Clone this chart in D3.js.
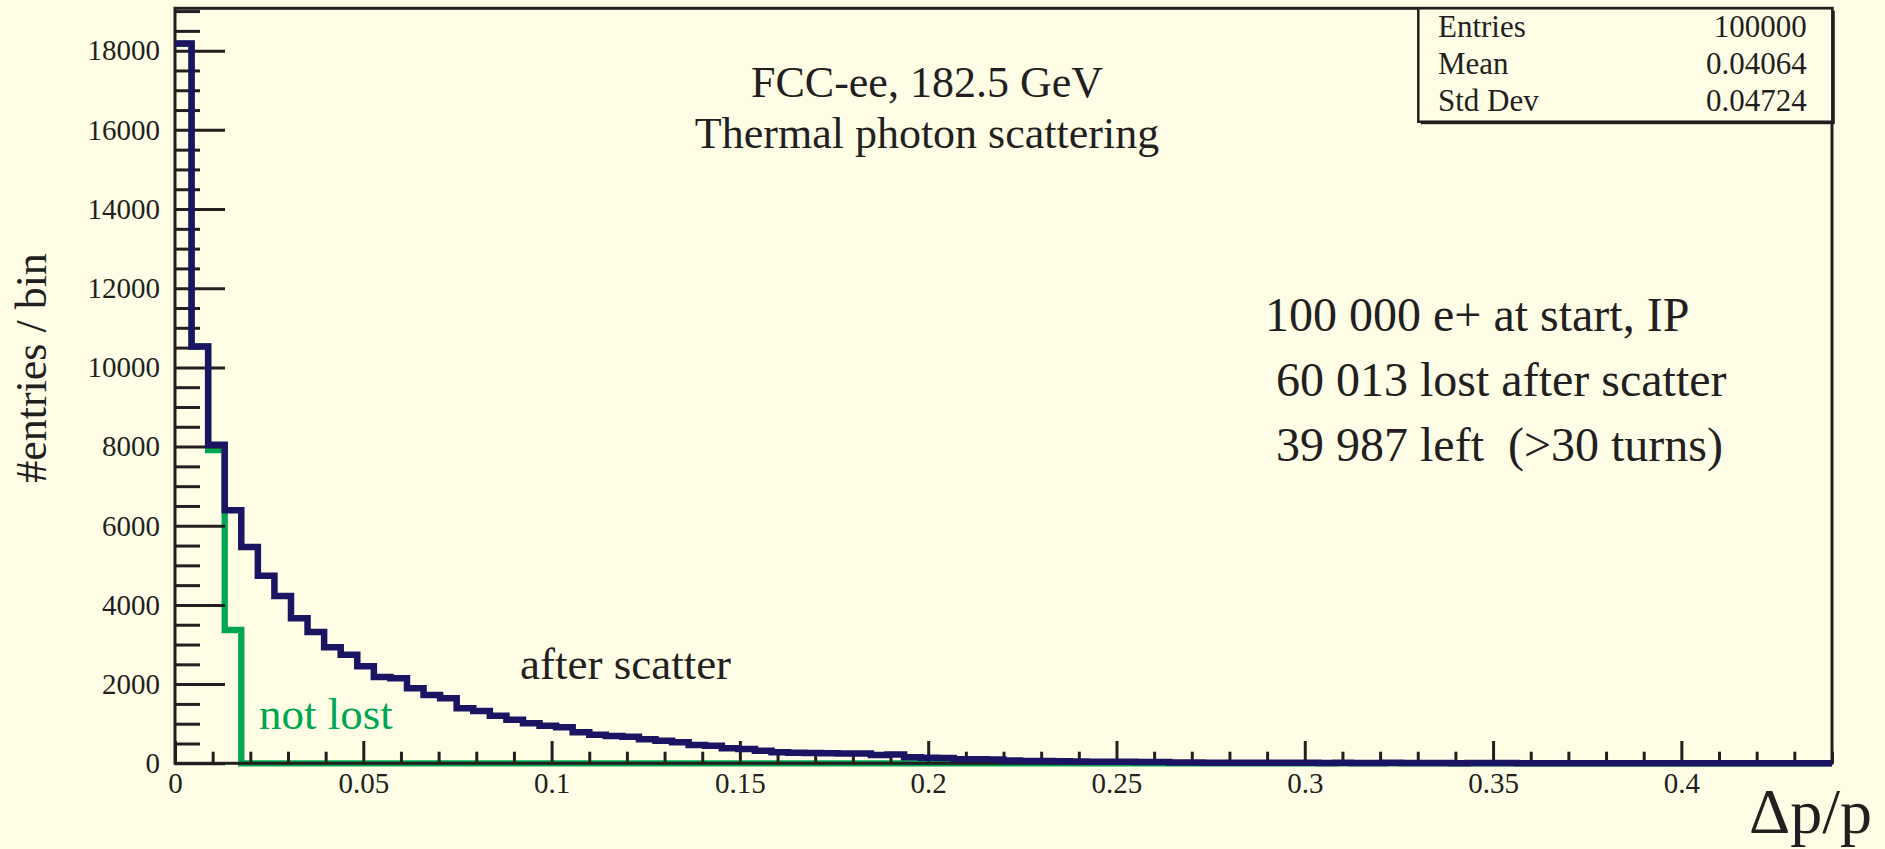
<!DOCTYPE html>
<html>
<head>
<meta charset="utf-8">
<script src="https://cdn.jsdelivr.net/npm/d3@7"></script>
<style>
  html, body { margin: 0; padding: 0; background: #fffde6; }
  svg { display: block; }
  text { font-family: "Liberation Serif", "Times New Roman", serif; fill: #231f20; }
</style>
</head>
<body>
<svg id="chart" width="1885" height="849"></svg>
<script>
// Histogram binning: 100 bins over [0, 0.44] in Δp/p
const binLow = 0;
const binHigh = 0.44;
const nBins = 100;

// Contents per bin — all positrons after the scattering event
const afterScatter = [
  18180, 10530, 8046, 6389, 5462, 4740, 4225, 3662, 3316, 2930,
  2740, 2450, 2180, 2146, 1894, 1725, 1641, 1389, 1320, 1200,
  1100, 1010, 950, 909, 783, 722, 689, 672, 606, 571,
  530, 462, 444, 379, 361, 318, 278, 268, 262, 252,
  250, 245, 210, 225, 150, 140, 135, 105, 100, 95,
  70, 60, 55, 50, 45, 40, 42, 38, 35, 30,
  20, 18, 16, 15, 14, 15, 13, 12, 12, 10,
  11, 10, 8, 12, 6, 10, 5, 4, 8, 10,
  9, 4, 3, 3, 2, 2, 1, 2, 1, 1,
  0, 1, 0, 0, 1, 0, 0, 0, 0, 0
];

// Contents per bin — positrons still circulating (>30 turns)
const notLost = [18180, 10530, 7910, 3367].concat(new Array(96).fill(0));

// Axis ticks
const yMajorTicks = [0, 2000, 4000, 6000, 8000, 10000, 12000, 14000, 16000, 18000];
const yMajorLabels = ["0", "2000", "4000", "6000", "8000", "10000", "12000", "14000", "16000", "18000"];
const yMinorStep = 500;
const yMax = 19070;
const xMajorTicks = [0, 0.05, 0.1, 0.15, 0.2, 0.25, 0.3, 0.35, 0.4];
const xMajorLabels = ["0", "0.05", "0.1", "0.15", "0.2", "0.25", "0.3", "0.35", "0.4"];
const xMinorStep = 0.01;

// Stats box
const statNames = ["Entries", "Mean", "Std Dev"];
const statValues = ["100000", "0.04064", "0.04724"];

// Annotation lines
const titleLines = ["FCC-ee, 182.5 GeV", "Thermal photon scattering"];
const summaryLines = ["100 000 e+ at start, IP", "60 013 lost after scatter", "39 987 left  (>30 turns)"];

const ink = "#231f20";
const navy = "#1a1462";
const green = "#00a651";
const paper = "#fffde6";

const frame = { left: 175, right: 1832, top: 8.3, bottom: 763.3 };

const svg = d3.select("#chart");

svg.append("rect").attr("width", 1885).attr("height", 849).attr("fill", paper);

const x = d3.scaleLinear().domain([binLow, binHigh]).range([frame.left, frame.right]);
const y = d3.scaleLinear().domain([0, yMax]).range([frame.bottom, frame.top]);

const binWidth = (binHigh - binLow) / nBins;

// Step outline through the bin contents (ROOT "HIST" style)
function stepPoints(contents) {
  const pts = contents.map((v, i) => [binLow + i * binWidth, v]);
  pts.push([binHigh, contents[contents.length - 1]]);
  return pts;
}
const stepLine = d3.line()
  .x(d => x(d[0]))
  .y(d => y(d[1]))
  .curve(d3.curveStepAfter);

// Layers: green histogram, then axes/frame, then navy histogram
const layerGreen = svg.append("g");
const layerAxes = svg.append("g");
const layerNavy = svg.append("g");
const layerText = svg.append("g");

layerGreen.append("path")
  .datum(stepPoints(notLost))
  .attr("d", stepLine)
  .attr("fill", "none")
  .attr("stroke", green)
  .attr("stroke-width", 6.3);

// Axes
const minorY = d3.range(0, yMax, yMinorStep).filter(v => v % 2000 !== 0);
const minorX = d3.range(0, binHigh + 1e-9, xMinorStep)
  .map(v => +v.toFixed(4))
  .filter(v => Math.abs(v / 0.05 - Math.round(v / 0.05)) > 1e-6);

const yAxisMajor = d3.axisLeft(y)
  .tickValues(yMajorTicks)
  .tickFormat((d, i) => yMajorLabels[i])
  .tickSize(-50)
  .tickPadding(15)
  .tickSizeOuter(0);
const yAxisMinor = d3.axisLeft(y)
  .tickValues(minorY)
  .tickFormat("")
  .tickSize(-25)
  .tickSizeOuter(0);

const xAxisMajor = d3.axisBottom(x)
  .tickValues(xMajorTicks)
  .tickFormat((d, i) => xMajorLabels[i])
  .tickSize(-22.3)
  .tickPadding(9)
  .tickSizeOuter(0);
const xAxisMinor = d3.axisBottom(x)
  .tickValues(minorX)
  .tickFormat("")
  .tickSize(-11.6)
  .tickSizeOuter(0);

function styleAxis(g) {
  g.select(".domain").remove();
  g.selectAll(".tick line").attr("stroke", ink).attr("stroke-width", 3);
  g.selectAll(".tick text").attr("fill", ink).style("font-size", "29px")
    .style("font-family", "'Liberation Serif', serif");
}

layerAxes.append("g").attr("transform", `translate(${frame.left},0)`).call(yAxisMinor).call(styleAxis);
layerAxes.append("g").attr("transform", `translate(${frame.left},0)`).call(yAxisMajor).call(styleAxis);
layerAxes.append("g").attr("transform", `translate(0,${frame.bottom})`).call(xAxisMinor).call(styleAxis);
layerAxes.append("g").attr("transform", `translate(0,${frame.bottom})`).call(xAxisMajor).call(styleAxis);

layerAxes.append("rect")
  .attr("x", frame.left).attr("y", frame.top)
  .attr("width", frame.right - frame.left).attr("height", frame.bottom - frame.top)
  .attr("fill", "none").attr("stroke", ink).attr("stroke-width", 3);

layerNavy.append("path")
  .datum(stepPoints(afterScatter))
  .attr("d", stepLine)
  .attr("fill", "none")
  .attr("stroke", navy)
  .attr("stroke-width", 6.5);

// Stats box (with drop shadow along the bottom)
const box = { x0: 1418.3, y0: 8.3, x1: 1832.3, y1: 121.7 };
layerText.append("rect")
  .attr("x", box.x0 + 2.5).attr("y", box.y0 + 2.5)
  .attr("width", box.x1 - box.x0).attr("height", box.y1 - box.y0)
  .attr("fill", ink);
layerText.append("rect")
  .attr("x", box.x0).attr("y", box.y0)
  .attr("width", box.x1 - box.x0).attr("height", box.y1 - box.y0)
  .attr("fill", paper).attr("stroke", ink).attr("stroke-width", 2.5);
const statRowY = d3.scalePoint().domain(statNames).range([37, 110.5]);
layerText.selectAll(".stat-name").data(statNames).join("text")
  .attr("class", "stat-name")
  .attr("x", 1438).attr("y", d => statRowY(d))
  .style("font-size", "31px")
  .text(d => d);
layerText.selectAll(".stat-val").data(statValues).join("text")
  .attr("class", "stat-val")
  .attr("x", 1806.7).attr("y", (d, i) => statRowY(statNames[i]))
  .attr("text-anchor", "end")
  .style("font-size", "31px")
  .text(d => d);

// Title
layerText.selectAll(".title").data(titleLines).join("text")
  .attr("class", "title")
  .attr("x", 927).attr("y", (d, i) => 97 + i * 51)
  .attr("text-anchor", "middle")
  .style("font-size", "44px")
  .text(d => d);

// Summary block
const summaryX = [1265, 1276, 1276];
layerText.selectAll(".summary").data(summaryLines).join("text")
  .attr("class", "summary")
  .attr("x", (d, i) => summaryX[i]).attr("y", (d, i) => 331 + i * 65)
  .style("white-space", "pre")
  .style("font-size", "48px")
  .text(d => d);

// Curve labels
layerText.append("text").attr("x", 520).attr("y", 679)
  .style("font-size", "45px").text("after scatter");
layerText.append("text").attr("x", 259).attr("y", 729)
  .style("font-size", "45px").style("fill", green).text("not lost");

// Axis titles
layerText.append("text")
  .attr("transform", "translate(46,368) rotate(-90)")
  .attr("text-anchor", "middle")
  .style("font-size", "44px")
  .text("#entries / bin");
layerText.append("text")
  .attr("x", 1872).attr("y", 833)
  .attr("text-anchor", "end")
  .style("font-size", "64px")
  .text("Δp/p");
</script>
</body>
</html>
